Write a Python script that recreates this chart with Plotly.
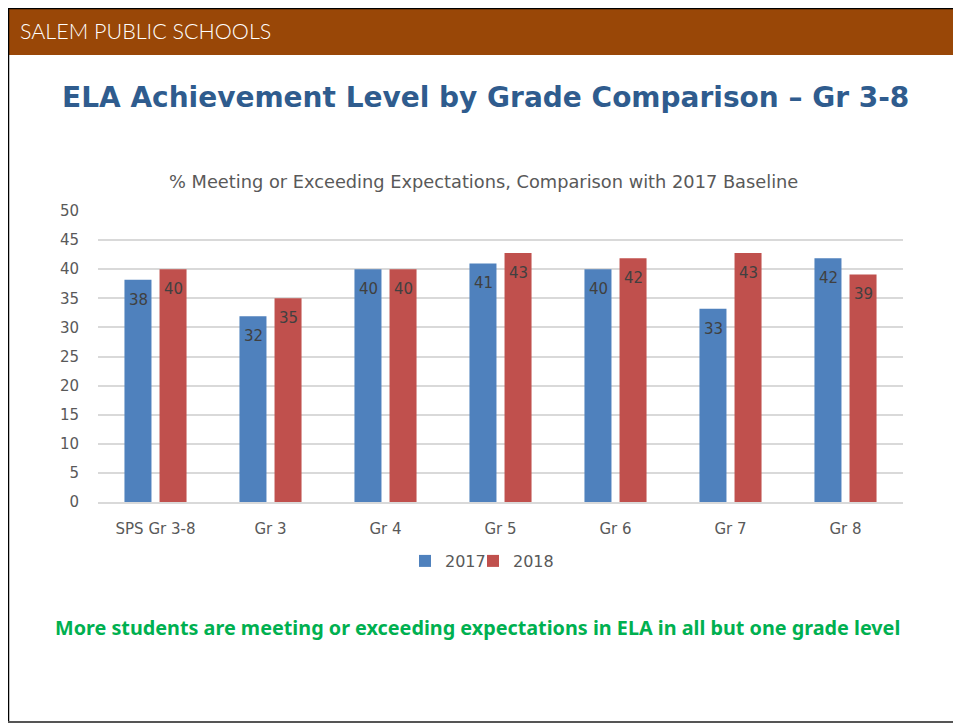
import plotly.graph_objects as go

categories = ["SPS Gr 3-8", "Gr 3", "Gr 4", "Gr 5", "Gr 6", "Gr 7", "Gr 8"]
values_2017 = [38.2, 31.9, 40.0, 41.0, 40.0, 33.2, 41.9]
values_2018 = [40.0, 35.0, 40.0, 42.8, 41.9, 42.8, 39.1]
series_names = ["2017", "2018"]
y_ticks = [0, 5, 10, 15, 20, 25, 30, 35, 40, 45, 50]

W, H = 961, 724
OX, OY = 8, 8  # page body margin
def fx(x): return (x - OX) / W
def fy(y): return 1 - (y - OY) / H

BLUE = "#4F81BD"
RED = "#C0504D"
CHART_FONT = "DejaVu Sans"

fig = go.Figure()
for name, vals, col, leg in [(series_names[0], values_2017, BLUE, "legend"),
                             (series_names[1], values_2018, RED, "legend2")]:
    fig.add_trace(go.Bar(
        x=categories, y=vals, name=name, marker_color=col,
        marker_line=dict(width=0), legend=leg,
    ))

# data labels, sitting a little below each bar top
label_annotations = []
for vals, shift in [(values_2017, -17.5), (values_2018, 17.5)]:
    for c, v in zip(categories, vals):
        label_annotations.append(dict(
            x=c, y=v, xref="x", yref="y", text=f"{v:.0f}", showarrow=False,
            xshift=shift, yshift=-20, xanchor="center", yanchor="middle",
            font=dict(family=CHART_FONT, size=15, color="#404040"),
        ))

legend_style = dict(orientation="h", xref="container", yref="container",
                    xanchor="left", yanchor="middle",
                    font=dict(family=CHART_FONT, size=16, color="#595959"),
                    itemwidth=30, bgcolor="rgba(0,0,0,0)")

fig.update_layout(
    width=W, height=H,
    margin=dict(l=0, r=0, t=0, b=0, autoexpand=False),
    paper_bgcolor="white", plot_bgcolor="white",
    barmode="group", bargap=0.39, bargroupgap=0.23,
    showlegend=True,
    legend=dict(x=fx(405), y=fy(561), **legend_style),
    legend2=dict(x=fx(473), y=fy(561), **legend_style),
    xaxis=dict(domain=[fx(98), fx(903)], automargin=False, showgrid=False, showline=True,
               linecolor="#D9D9D9", linewidth=1.5,
               tickfont=dict(family=CHART_FONT, size=15, color="#595959"), ticks="", ticklabelstandoff=12),
    yaxis=dict(domain=[fy(502), fy(211)], automargin=False, range=[0, 50], tickvals=y_ticks, showgrid=True,
               gridcolor="#D9D9D9", gridwidth=1.5, zeroline=False, showline=False,
               tickfont=dict(family=CHART_FONT, size=15, color="#595959"), ticks="", ticklabelstandoff=18),
    shapes=[
        dict(type="rect", xref="paper", yref="paper", x0=fx(0), x1=fx(975), y0=fy(55), y1=fy(7),
             fillcolor="#994707", line=dict(width=0), layer="below"),
        dict(type="line", xref="paper", yref="paper", x0=fx(0), x1=fx(975), y0=fy(8), y1=fy(8),
             line=dict(color="black", width=2.5)),
        dict(type="line", xref="paper", yref="paper", x0=fx(8), x1=fx(8), y0=fy(0), y1=fy(722),
             line=dict(color="black", width=2.5)),
        dict(type="line", xref="paper", yref="paper", x0=fx(0), x1=fx(975), y0=fy(722), y1=fy(722),
             line=dict(color="#555555", width=2)),
    ],
    annotations=[
        dict(text="SALEM PUBLIC SCHOOLS", xref="paper", yref="paper", x=fx(18), y=fy(31),
             xanchor="left", yanchor="middle", showarrow=False,
             font=dict(family="Lato", size=21.5, color="white", weight=300)),
        dict(text="<b>ELA Achievement Level by Grade Comparison – Gr 3-8</b>", xref="paper", yref="paper",
             x=fx(485), y=fy(97), xanchor="center", yanchor="middle", showarrow=False,
             font=dict(family="DejaVu Sans", size=28, color="#2F5C8E")),
        dict(text="% Meeting or Exceeding Expectations, Comparison with 2017 Baseline", xref="paper", yref="paper",
             x=fx(483), y=fy(181), xanchor="center", yanchor="middle", showarrow=False,
             font=dict(family=CHART_FONT, size=17.8, color="#595959")),
        dict(text="<b>More students are meeting or exceeding expectations in ELA in all but one grade level</b>",
             xref="paper", yref="paper", x=fx(477), y=fy(627), xanchor="center", yanchor="middle", showarrow=False,
             font=dict(family="Noto Sans", size=19.8, color="#00B050")),
    ] + label_annotations,
)

fig.write_html("out.html")
